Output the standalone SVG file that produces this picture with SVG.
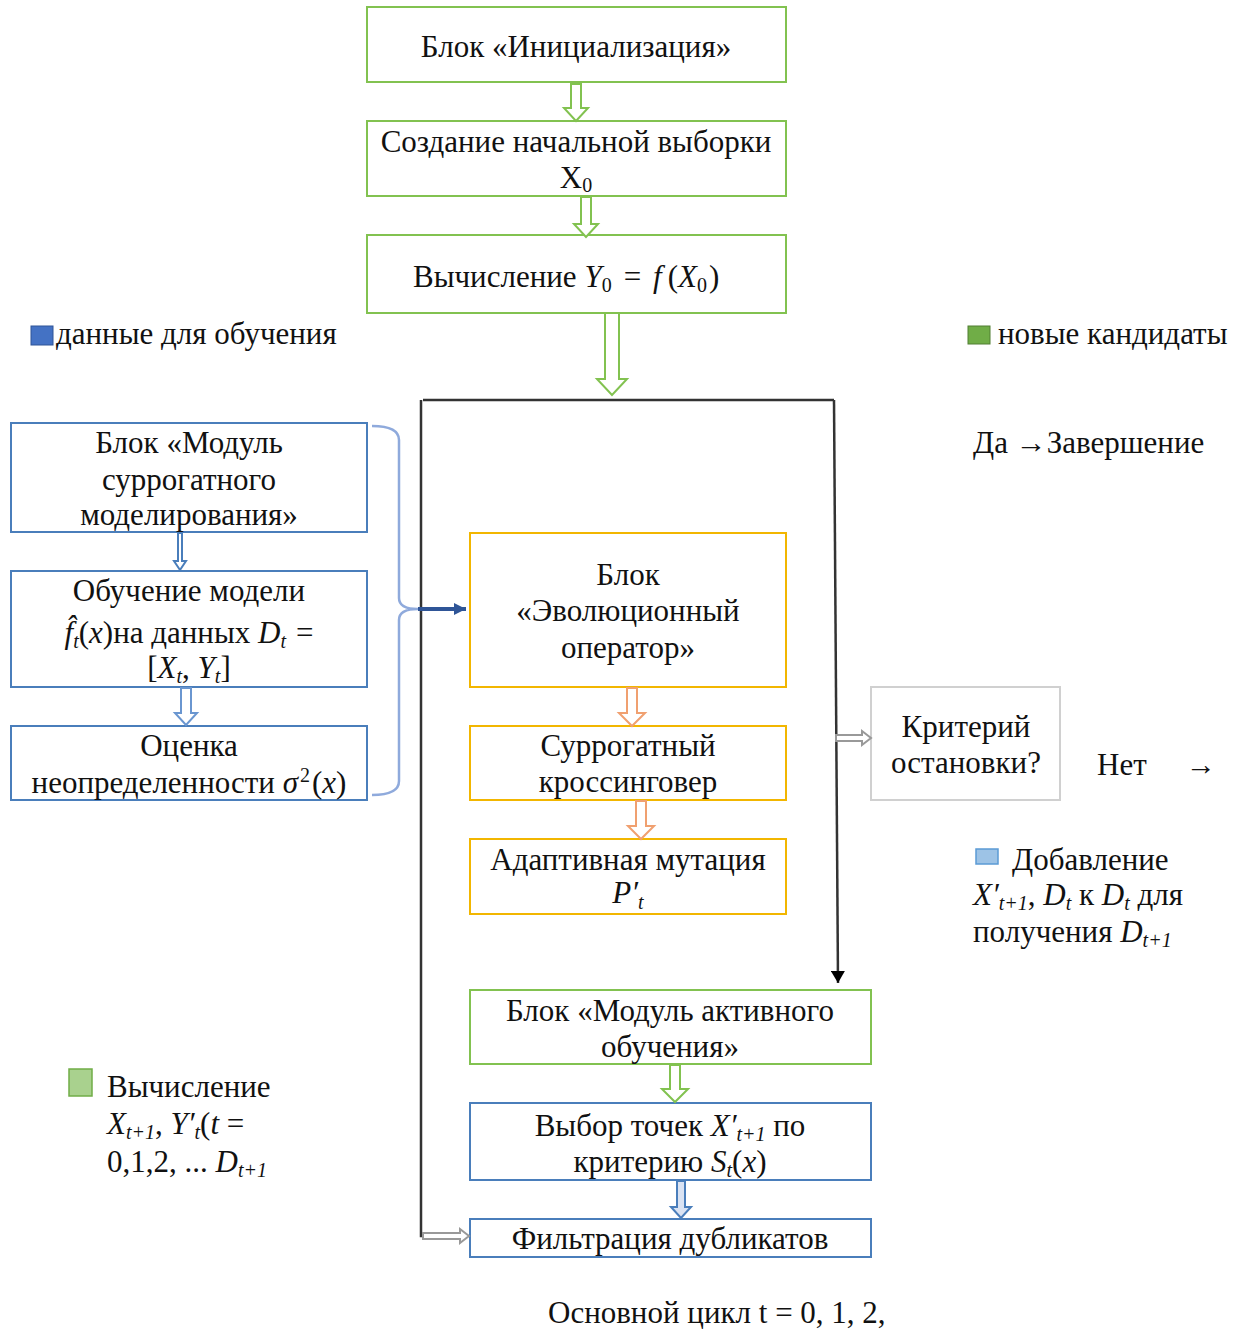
<svg xmlns="http://www.w3.org/2000/svg" width="1239" height="1330" viewBox="0 0 1239 1330">
<style>
text{font-family:"Liberation Serif","DejaVu Serif",serif;font-size:31px;fill:#111}
.c{text-anchor:middle}
.i{font-style:italic}
.s{font-size:20px;font-style:italic}
.g{fill:#fff;stroke:#82C250;stroke-width:2}
.b{fill:#fff;stroke:#4A7EBB;stroke-width:2}
.o{fill:#fff;stroke:#F2B600;stroke-width:2}
.gr{fill:#fff;stroke:#D0D0D0;stroke-width:2}
.ha{stroke-width:2;stroke-linejoin:miter}
.line{fill:none;stroke:#333;stroke-width:2.5}
</style>
<defs>
<marker id="blk" markerWidth="12" markerHeight="14" refX="12" refY="7" orient="auto" markerUnits="userSpaceOnUse"><path d="M0,0 L12,7 L0,14 Z" fill="#000"/></marker>
<marker id="blu" markerWidth="12" markerHeight="12" refX="12" refY="6" orient="auto" markerUnits="userSpaceOnUse"><path d="M0,0 L12,6 L0,12 Z" fill="#2F5597"/></marker>
</defs>

<g id="legend-data">
<rect x="31" y="326" width="22" height="19" fill="#4472C4" stroke="#2F5597" stroke-width="1"/>
<text x="56" y="344">данные для обучения</text>
</g>
<g id="legend-new">
<rect x="968" y="326" width="22" height="18" fill="#70AD47" stroke="#507E32" stroke-width="1"/>
<text x="998" y="344">новые кандидаты</text>
</g>

<g id="node-init">
<rect class="g" x="367" y="7" width="419" height="75"/>
<text class="c" x="576" y="57">Блок «Инициализация»</text>
</g>
<g id="node-sample">
<rect class="g" x="367" y="121" width="419" height="75"/>
<text class="c" x="576" y="152">Создание начальной выборки</text>
<text class="c" x="576" y="188">X<tspan font-size="20" dy="4">0</tspan></text>
</g>
<g id="node-eval">
<rect class="g" x="367" y="235" width="419" height="78"/>
<text x="413" y="287">Вычисление <tspan class="i">Y</tspan><tspan font-size="20" dy="5">0</tspan><tspan dx="12" dy="-5">=</tspan><tspan class="i" dx="12">f</tspan><tspan dx="6">(</tspan><tspan class="i">X</tspan><tspan font-size="20" dy="5">0</tspan><tspan dx="2" dy="-5">)</tspan></text>
</g>

<g id="node-surrogate">
<rect class="b" x="11" y="423" width="356" height="109"/>
<text class="c" x="189" y="453">Блок «Модуль</text>
<text class="c" x="189" y="490">суррогатного</text>
<text class="c" x="189" y="525">моделирования»</text>
</g>
<g id="node-train">
<rect class="b" x="11" y="571" width="356" height="116"/>
<text class="c" x="189" y="601">Обучение модели</text>
<text class="c" x="189" y="643"><tspan class="i">f̂</tspan><tspan class="s" dy="5">t</tspan><tspan dy="-5">(</tspan><tspan class="i">x</tspan>)на данных <tspan class="i">D</tspan><tspan class="s" dy="5">t</tspan><tspan dx="10" dy="-5">=</tspan></text>
<text class="c" x="189" y="678">[<tspan class="i">X</tspan><tspan class="s" dy="5">t</tspan><tspan dy="-5">, </tspan><tspan class="i">Y</tspan><tspan class="s" dy="5">t</tspan><tspan dy="-5">]</tspan></text>
</g>
<g id="node-uncert">
<rect class="b" x="11" y="726" width="356" height="74"/>
<text class="c" x="189" y="756">Оценка</text>
<text class="c" x="189" y="793">неопределенности <tspan class="i">σ</tspan><tspan font-size="20" dx="2" dy="-11">2</tspan><tspan dx="2" dy="11">(</tspan><tspan class="i">x</tspan>)</text>
</g>

<g id="node-evo">
<rect class="o" x="470" y="533" width="316" height="154"/>
<text class="c" x="628" y="585">Блок</text>
<text class="c" x="628" y="621">«Эволюционный</text>
<text class="c" x="628" y="658">оператор»</text>
</g>
<g id="node-cross">
<rect class="o" x="470" y="726" width="316" height="74"/>
<text class="c" x="628" y="756">Суррогатный</text>
<text class="c" x="628" y="792">кроссинговер</text>
</g>
<g id="node-mut">
<rect class="o" x="470" y="839" width="316" height="75"/>
<text class="c" x="628" y="870">Адаптивная мутация</text>
<text class="c" x="628" y="903"><tspan class="i">P′</tspan><tspan class="s" dy="6">t</tspan></text>
</g>

<g id="node-stop">
<rect class="gr" x="871" y="687" width="189" height="113"/>
<text class="c" x="966" y="737">Критерий</text>
<text class="c" x="966" y="773">остановки?</text>
</g>
<g id="label-no">
<text x="1097" y="775">Нет</text>
<text x="1186" y="775" textLength="30" lengthAdjust="spacingAndGlyphs">→</text>
</g>
<g id="label-yes">
<text x="973" y="453">Да →Завершение</text>
</g>
<g id="legend-add">
<rect x="976" y="849" width="22" height="15" fill="#9DC3E6" stroke="#5B9BD5" stroke-width="1.5"/>
<text x="1012" y="870">Добавление</text>
<text x="973" y="905"><tspan class="i">X′</tspan><tspan class="s" dy="5">t+1</tspan><tspan dy="-5">, </tspan><tspan class="i">D</tspan><tspan class="s" dy="5">t</tspan><tspan dy="-5"> к </tspan><tspan class="i">D</tspan><tspan class="s" dy="5">t</tspan><tspan dy="-5"> для</tspan></text>
<text x="973" y="942">получения <tspan class="i">D</tspan><tspan class="s" dy="5">t+1</tspan></text>
</g>

<g id="node-active">
<rect class="g" x="470" y="990" width="401" height="74"/>
<text class="c" x="670" y="1021">Блок «Модуль активного</text>
<text class="c" x="670" y="1057">обучения»</text>
</g>
<g id="node-select">
<rect class="b" x="470" y="1103" width="401" height="77"/>
<text class="c" x="670" y="1136">Выбор точек <tspan class="i">X′</tspan><tspan class="s" dy="5">t+1</tspan><tspan dy="-5"> по</tspan></text>
<text class="c" x="670" y="1172">критерию <tspan class="i">S</tspan><tspan class="s" dy="5">t</tspan><tspan dy="-5">(</tspan><tspan class="i">x</tspan>)</text>
</g>
<g id="node-filter">
<rect class="b" x="470" y="1219" width="401" height="38"/>
<text class="c" x="670" y="1249">Фильтрация дубликатов</text>
</g>

<g id="legend-compute">
<rect x="69" y="1069" width="23" height="27" fill="#A9D18E" stroke="#70AD47" stroke-width="1.5"/>
<text x="107" y="1097">Вычисление</text>
<text x="107" y="1134"><tspan class="i">X</tspan><tspan class="s" dy="5">t+1</tspan><tspan dy="-5">, </tspan><tspan class="i">Y′</tspan><tspan class="s" dy="5">t</tspan><tspan dy="-5">(</tspan><tspan class="i">t</tspan> =</text>
<text x="107" y="1172">0,1,2, ... <tspan class="i">D</tspan><tspan class="s" dy="5">t+1</tspan></text>
</g>

<g id="label-loop">
<text x="548" y="1323">Основной цикл t = 0, 1, 2,</text>
</g>

<g id="connectors">
<path class="ha" fill="#fff" stroke="#82C250" d="M571,84 H581 V108 H588 L576,121 L564,108 H571 Z"/>
<path class="ha" fill="#fff" stroke="#82C250" d="M581,197 H591 V224 H598 L586,237 L574,224 H581 Z"/>
<path class="ha" fill="#fff" stroke="#82C250" d="M605,313 H619 V379 H627 L612,395 L597,379 H605 Z"/>
<path class="line" d="M423,400 H834"/>
<path class="line" d="M421,400 V1236 H428"/>
<path fill="none" stroke="#333" stroke-width="2.5" d="M834,400 L838,983" marker-end="url(#blk)"/>
<path class="ha" fill="#fff" stroke="#999" stroke-width="1.5" d="M836,735 H862 V731 L871,738 L862,745 V741 H836 Z"/>
<path class="ha" fill="#fff" stroke="#999" stroke-width="1.5" d="M423,1233 H460 V1229 L469,1236 L460,1243 V1239 H423 Z"/>
<path fill="none" stroke="#8FAADC" stroke-width="2.5" d="M372,426 Q399,426 399,440 L399,598 Q399,609 418,609 Q399,609 399,620 L399,781 Q399,795 372,795"/>
<path fill="none" stroke="#2F5597" stroke-width="4" d="M418,609 H466" marker-end="url(#blu)"/>
<path class="ha" fill="#fff" stroke="#4A7EBB" stroke-width="1.5" d="M178,533 H182 V561 H186 L180,570 L174,561 H178 Z"/>
<path class="ha" fill="#fff" stroke="#6A96D0" d="M181,688 H191 V713 H197 L186,725 L175,713 H181 Z"/>
<path class="ha" fill="#fff" stroke="#F0A070" d="M627,688 H637 V713 H645 L632,726 L619,713 H627 Z"/>
<path class="ha" fill="#fff" stroke="#F0A070" d="M636,801 H646 V826 H654 L641,839 L628,826 H636 Z"/>
<path class="ha" fill="#fff" stroke="#82C250" d="M670,1065 H680 V1089 H688 L675,1102 L662,1089 H670 Z"/>
<path class="ha" fill="#DAE3F3" stroke="#4A7EBB" d="M677,1181 H685 V1207 H691 L681,1218 L671,1207 H677 Z"/>
</g>
</svg>
